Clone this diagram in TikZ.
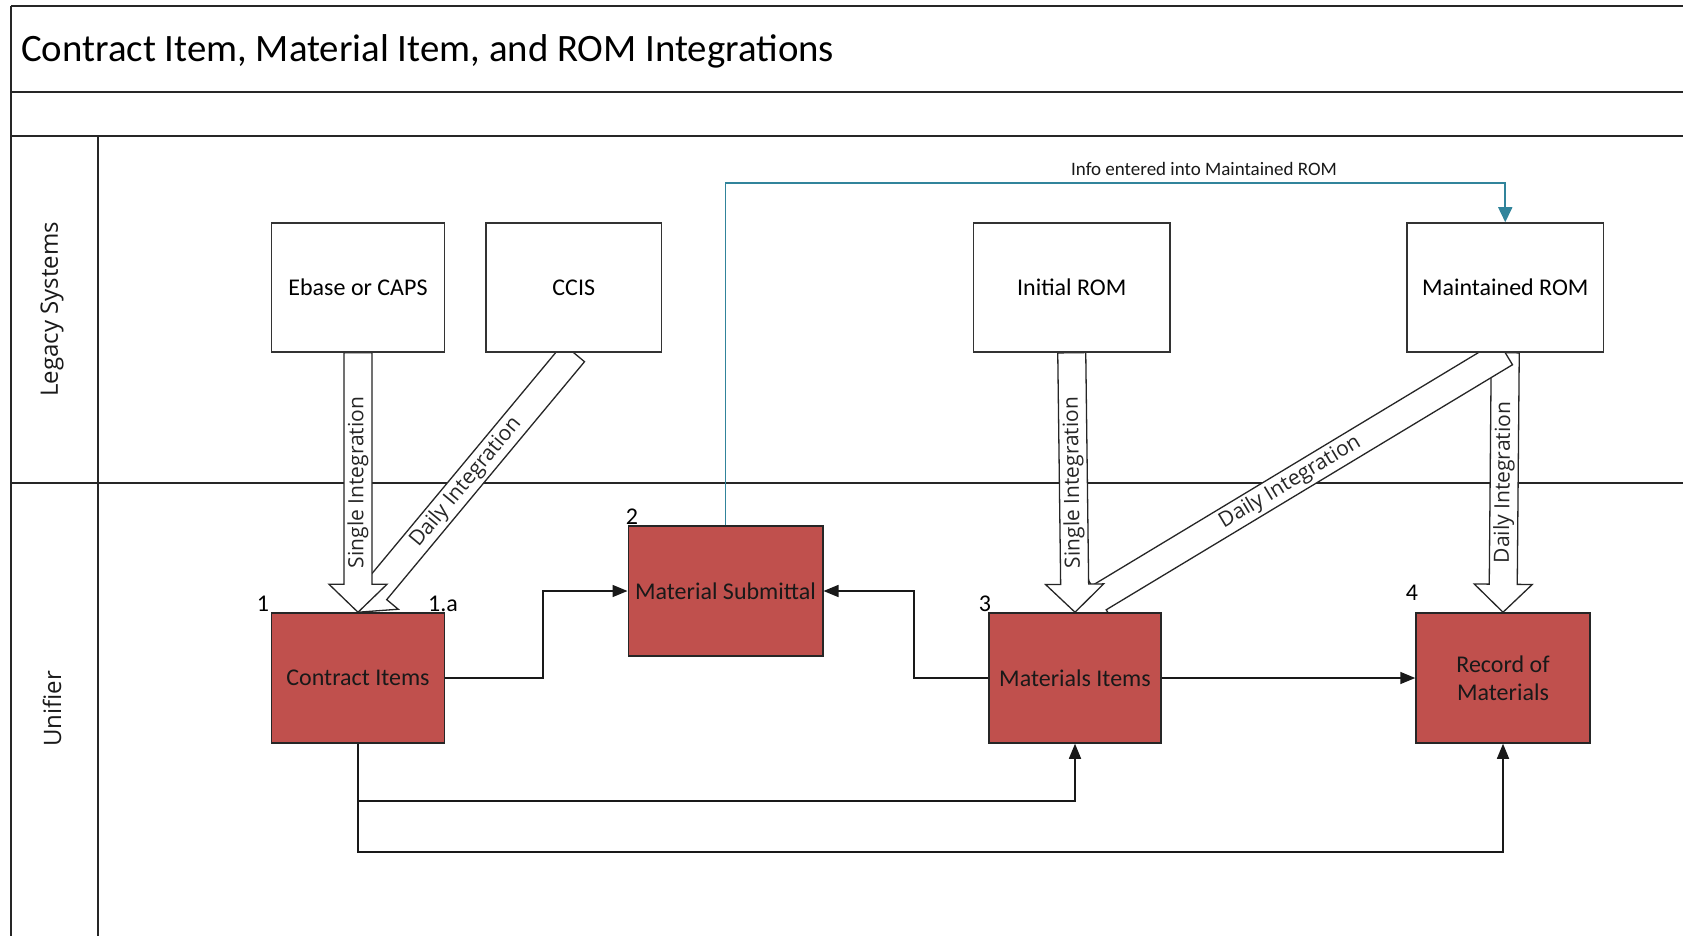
\documentclass[tikz,border=0pt]{standalone}
\usepackage{fontspec}
\setmainfont{Carlito}
\newfontfamily\uifont{Open Sans}
\usetikzlibrary{arrows.meta,calc}
\pgfdeclarelayer{canvas}
\pgfdeclarelayer{bg}
\pgfsetlayers{canvas,bg,main}
\definecolor{boxred}{HTML}{C0504D}
\definecolor{tealline}{HTML}{31849B}
\tikzset{
  frameline/.style={line width=2pt,black!85},
  legacybox/.style={draw=black!80,line width=1.5pt,fill=white,inner sep=2pt,align=center,
    font={\fontsize{24}{28.5}\selectfont}},
  unibox/.style={draw=black!85,line width=1.5pt,fill=boxred,inner sep=2pt,align=center,
    text=black!90,font={\fontsize{24}{28.5}\selectfont},minimum width=173pt,minimum height=130pt},
  blockarrow/.style={draw=black!85,line width=1.3pt,fill=white,line join=miter},
  arrowtext/.style={font={\uifont\fontsize{21}{24}\selectfont},inner sep=0pt,text=black!85},
  lanetext/.style={font={\uifont\fontsize{24}{28}\selectfont},rotate=90,text=black!90},
  numtext/.style={font={\fontsize{24}{28}\selectfont},anchor=base,inner sep=0pt},
  conn/.style={line width=1.5pt,black!90,-{Triangle[length=15pt,width=12pt]}},
  tealconn/.style={line width=1.6pt,tealline,-{Triangle[length=15pt,width=14pt]}}
}
\newcommand{\blockarr}[4]{%
  \path (#1); \pgfgetlastxy{\bax}{\bay}%
  \path (#2); \pgfgetlastxy{\bbx}{\bby}%
  \pgfmathsetmacro\baang{atan2(\bby-\bay,\bbx-\bax)}%
  \pgfmathsetmacro\balen{veclen(\bbx-\bax,\bby-\bay)}%
  \pgfmathsetmacro\batxt{\baang+180}%
  \begin{scope}[shift={(\bax,\bay)},rotate=\baang]
    \draw[blockarrow] (0pt,14pt) -- ({\balen pt-28pt},14pt) -- ({\balen pt-28pt},29pt) -- (\balen pt,0pt) -- ({\balen pt-28pt},-29pt) -- ({\balen pt-28pt},-14pt) -- (0pt,-14pt) -- cycle;
    \node[arrowtext,rotate=\batxt] (#3) at ({\balen pt/2},0pt) {#4};
  \end{scope}}
\begin{document}
\begin{tikzpicture}[x=1pt,y=-1pt]
\begin{pgfonlayer}{canvas}
\fill[white] (0,0) rectangle (1683,936);
\end{pgfonlayer}
\useasboundingbox (0,0) rectangle (1683,936);

% boxes (main layer)
\node[legacybox,minimum width=173pt,minimum height=129pt] (ebase) at (358,287.5) {Ebase or CAPS};
\node[legacybox,minimum width=175.5pt,minimum height=129pt] (ccis) at (573.75,287.5) {CCIS};
\node[legacybox,minimum width=196.5pt,minimum height=129pt] (initrom) at (1071.75,287.5) {Initial ROM};
\node[legacybox,minimum width=196.5pt,minimum height=129pt] (mainrom) at (1505.25,287.5) {Maintained ROM};

\node[unibox] (contract) at (358,678) {Contract Items};
\node[unibox,minimum width=194.5pt] (matsub) at (725.5,591) {Material Submittal};
\node[unibox,minimum width=172pt] (matitems) at (1075,678) {Materials Items};
\node[unibox,minimum width=174pt] (record) at (1503,678) {Record of\\Materials};

\begin{pgfonlayer}{bg}
  % frame
  \draw[frameline] (11,6) -- (1690,6);
  \draw[frameline] (11,6) -- (11,940);
  \draw[frameline] (11,92.3) -- (1690,92.3);
  \draw[frameline] (11,136.3) -- (1690,136.3);
  \draw[frameline] (98,136.3) -- (98,940);
  \draw[frameline] (11,483) -- (1690,483);
  % block arrows
  \blockarr{ccis.south}{contract.north}{t1a}{Daily Integration}
  \blockarr{ebase.south}{contract.north}{t1}{Single Integration}
  \blockarr{mainrom.south}{record.north}{t4}{Daily Integration}
  \blockarr{mainrom.south}{matitems.north}{t3b}{Daily Integration}
  \blockarr{initrom.south}{matitems.north}{t3}{Single Integration}
\end{pgfonlayer}

% title and lanes
\node[anchor=west,inner sep=0pt,font={\fontsize{38.8}{44}\selectfont}] (title) at (21,51) {Contract Item, Material Item, and ROM Integrations};
\node[lanetext] (lane1) at (52,309.5) {Legacy Systems};
\node[lanetext] (lane2) at (52,709) {Unifier};

% numbers
\node[numtext] (n1) at (263,611) {1};
\node[numtext] (n1a) at (443,611) {1.a};
\node[numtext] (n2) at (632,524) {2};
\node[numtext] (n3) at (985,611) {3};
\node[numtext] (n4) at (1412,600) {4};

% connectors
\draw[conn] (contract.east) -- ++(97.5,0) |- (matsub.west);
\draw[conn] (matitems.west) -- ++(-74.5,0) |- (matsub.east);
\draw[conn] (matitems.east) -- (record.west);
\draw[conn] (contract.south) -- ++(0,57) -| (matitems.south);
\draw[conn] (contract.south) -- ++(0,108) -| (record.south);
\draw[tealconn] (matsub.north) -- ++(0,-342.5) -| (mainrom.north);
\node[font={\fontsize{19}{22}\selectfont},inner sep=0pt,text=black!90] (infolbl) at (1204,168.5) {Info entered into Maintained ROM};
\end{tikzpicture}
\end{document}
